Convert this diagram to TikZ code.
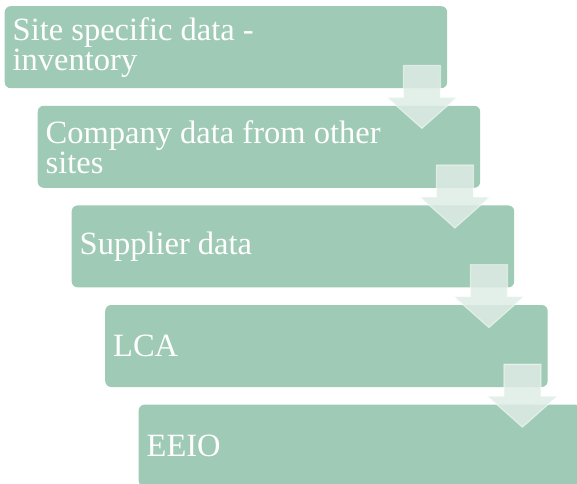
\documentclass[tikz,border=0pt]{standalone}
\usepackage{fontspec}
\setmainfont{Liberation Serif}
\usepackage{tikz}
\definecolor{stepgreen}{RGB}{158, 202, 182}
\definecolor{arrowmint}{RGB}{222, 236, 229}

\begin{document}
\begin{tikzpicture}[
        x=1pt, y=1pt,
        level/.style={rectangle, fill=stepgreen, rounded corners=6pt, anchor=north west, minimum height=82pt, text width=426.5pt, inner xsep=8pt, inner ysep=0pt, align=flush left, text=white, font=\fontsize{32.5}{30}\selectfont},
        flow/.style={fill=arrowmint, fill opacity=0.85, draw=white, draw opacity=0.5, line width=1.2pt, line join=miter}
    ]
        \useasboundingbox (0,0) rectangle (577,483);
        \clip (0,0) rectangle (577,483);

        % Staircase of data sources (most to least specific)
        \node[level] (site) at (4.5, 477) {Site specific data -\\inventory};
        \node[level] (company) at (37.5, 377.4) {Company data from other\\sites};
        \node[level] (supplier) at (71.5, 277.8) {Supplier data};
        \node[level] (lca) at (105, 178.2) {LCA};
        \node[level] (eeio) at (138.5, 78.6) {EEIO};

        % Down arrows stepping into the next box
        \foreach \src in {site, company, supplier, lca}
            \draw[flow] ([shift={(-44pt,23pt)}]\src.south east) -- ++(37,0) -- ++(0,-32) -- ++(16.5,0) -- ++(-35,-31) -- ++(-35,31) -- ++(16.5,0) -- cycle;
    \end{tikzpicture}
\end{document}
